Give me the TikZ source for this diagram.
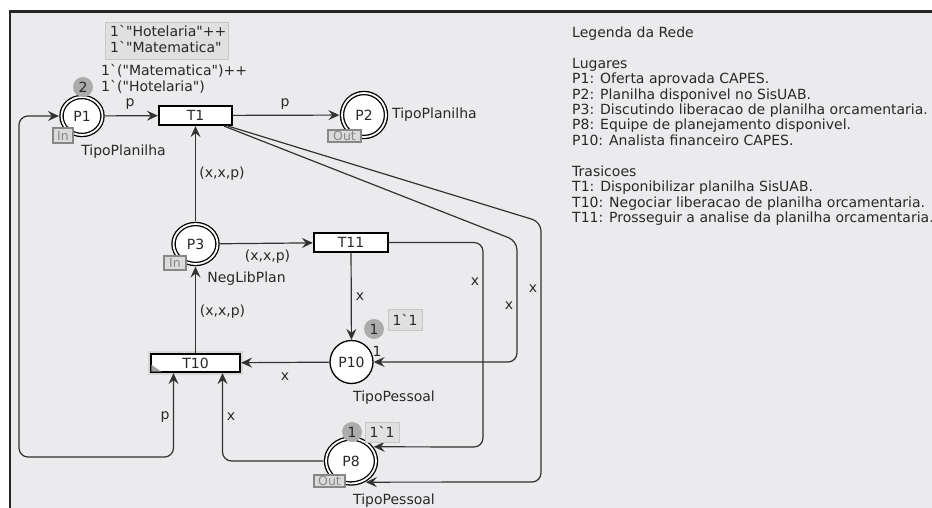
\documentclass[tikz,border=0pt]{standalone}
\usepackage{fontspec}
\setmainfont{DejaVu Sans}[Ligatures=TeXOff]
\usetikzlibrary{arrows.meta,shapes.geometric}
\definecolor{bg}{RGB}{235,235,237}
\definecolor{ln}{RGB}{50,50,50}
\definecolor{tx}{RGB}{40,40,40}
\definecolor{tok}{RGB}{172,172,172}
\definecolor{mk}{RGB}{224,224,224}
\definecolor{portc}{RGB}{135,135,135}
\begin{document}
\begin{tikzpicture}[x=1pt,y=-1pt,
  font=\fontsize{14}{15.4}\selectfont, text=tx,
  >={Stealth[length=11pt,width=10pt,inset=4pt]},
  place/.style={ellipse, draw=black, fill=white, line width=1.3pt, inner sep=0pt},
  dplace/.style={place, double=white, double distance=1.8pt, outer sep=2.6pt},
  trans/.style={rectangle, draw=black, fill=white, line width=2.2pt, inner sep=0pt},
  cpnarc/.style={draw=ln, line width=1.2pt, rounded corners=9pt, ->},
  cpnbi/.style={draw=ln, line width=1.2pt, rounded corners=9pt, <->},
  token/.style={circle, fill=tok, minimum size=20pt, inner sep=0pt},
  mbox/.style={rectangle, fill=mk, draw=black!22, line width=0.7pt, inner sep=0pt},
  port/.style={rectangle, fill=white!86!black, draw=portc, line width=1.3pt, text=portc, inner sep=0pt, font=\fontsize{12.5}{12}\selectfont},
  lbl/.style={inner sep=0pt, text=tx},
  legend/.style={anchor=base west, inner sep=0pt, text=tx}
]
\useasboundingbox (0,0) rectangle (932,508);
\clip (0,0) rectangle (932,508);
\fill[white] (0,0) rectangle (932,508);
\fill[bg] (10,11) rectangle (932,508);
\draw[line width=2.6pt, black!85] (10,510) -- (10,11.5) -- (934,11.5);

% places
\node[dplace, minimum width=41pt, minimum height=38pt] (P1) at (82,116) {P1};
\node[dplace, minimum width=44pt, minimum height=44pt] (P2) at (364,115) {P2};
\node[dplace, minimum width=44pt, minimum height=40pt] (P3) at (195.5,244) {P3};
\node[dplace, minimum width=50pt, minimum height=45pt] (P8) at (351,461) {P8};
\node[place, minimum width=43pt, minimum height=43pt] (P10) at (351.5,362) {P10};

% transitions
\node[trans, minimum width=73pt, minimum height=19pt] (T1) at (195.5,115.5) {T1};
\node[trans, minimum width=74pt, minimum height=19pt] (T11) at (351,242.5) {T11};
\node[trans, minimum width=89pt, minimum height=18pt, preaction={draw=black!16, line width=6.5pt}] (T10) at (195.5,363) {T10};
\fill[black!38] ([shift={(1.4pt,1.4pt)}]T10.south west) -- ++(10,0) -- ++(-10,-7) -- cycle;

% arcs
\draw[cpnarc] (P1) -- (T1);
\draw[cpnarc] (T1) -- (P2);
\draw[cpnarc] (P3) -- (T1);
\draw[cpnarc] (P3) -- (T11);
\draw[cpnarc] (T10) -- (P3);
\draw[cpnarc] (T11) -- (P10);
\draw[cpnarc] (P10) -- (T10);
\draw[cpnbi] (P1.west) -- (19,116) -- (19,457) -| ([xshift=-22pt]T10.south);
\draw[cpnarc] (P8.west) -| ([xshift=27pt]T10.south);
\draw[cpnarc] (T11.east) -- (483,242.5) -- (483,447) -- (P8.32);
\draw[cpnarc] ([xshift=-9pt]T1.south east) -- (517,241) -- (517,362) -- (P10.east);
\draw[cpnarc] ([xshift=-5pt]T1.south east) -- (541,222) -- (541,482) -- (P8.-55);

% arc labels
\node[lbl] (lp1) at (130,104) {p};
\node[lbl] (lp2) at (285,104) {p};
\node[lbl] (lx1) at (222,173.5) {(x,x,p)};
\node[lbl] (lx2) at (267.5,257) {(x,x,p)};
\node[lbl] (lx3) at (222.5,312) {(x,x,p)};
\node[lbl] (lx4) at (360,297) {x};
\node[lbl] (lx5) at (285,377) {x};
\node[lbl] (lp3) at (165,417) {p};
\node[lbl] (lx6) at (231,417) {x};
\node[lbl] (lx7) at (475,282) {x};
\node[lbl] (lx8) at (509,306) {x};
\node[lbl] (lx9) at (533,289) {x};

% colour sets
\node[lbl] (cs1) at (123.5,152) {TipoPlanilha};
\node[lbl, anchor=west] (cs2) at (392,115) {TipoPlanilha};
\node[lbl] (cs3) at (246.5,278.5) {NegLibPlan};
\node[lbl] (cs4) at (394,398) {TipoPessoal};
\node[lbl] (cs5) at (394,500.5) {TipoPessoal};

% ports
\node[port, minimum width=20pt, minimum height=15pt] (pin1) at (63,135.5) {In};
\node[port, minimum width=33pt, minimum height=12pt] (pout2) at (344.5,136) {Out};
\node[port, minimum width=22pt, minimum height=14pt] (pin3) at (175,263) {In};
\node[port, minimum width=31pt, minimum height=12pt] (pout8) at (329.5,481) {Out};

% markings
\node[legend] (im1) at (101,76) {1`("Matematica")++};
\node[legend] (im2) at (101,91.5) {1`("Hotelaria")};
\node[mbox, minimum width=123pt, minimum height=37pt] (mb1) at (166.5,40.5) {};
\node[legend] (mt1) at (110,37) {1`"Hotelaria"++};
\node[legend] (mt2) at (110,53) {1`"Matematica"};
\node[token] (tk1) at (83,87) {2};

\node[lbl] (im10) at (377,351) {1};
\node[token] (tk10) at (374,329) {1};
\node[mbox, minimum width=34pt, minimum height=21pt] (mb10) at (405,319.5) {1`1};

\node[token] (tk8) at (352,432) {1};
\node[mbox, minimum width=34pt, minimum height=20pt] (mb8) at (382,432) {1`1};

% legend
\node[legend] (lg0) at (572,37.3) {Legenda da Rede};
\node[legend] (lg2) at (572,68.2) {Lugares};
\node[legend] (lg3) at (572,83.65) {P1: Oferta aprovada CAPES.};
\node[legend] (lg4) at (572,99.1) {P2: Planilha disponivel no SisUAB.};
\node[legend] (lg5) at (572,114.55) {P3: Discutindo liberacao de planilha orcamentaria.};
\node[legend] (lg6) at (572,130) {P8: Equipe de planejamento disponivel.};
\node[legend] (lg7) at (572,145.45) {P10: Analista financeiro CAPES.};
\node[legend] (lg9) at (572,176.35) {Trasicoes};
\node[legend] (lg10) at (572,191.8) {T1: Disponibilizar planilha SisUAB.};
\node[legend] (lg11) at (572,207.25) {T10: Negociar liberacao de planilha orcamentaria.};
\node[legend] (lg12) at (572,222.7) {T11: Prosseguir a analise da planilha orcamentaria.};
\end{tikzpicture}
\end{document}
